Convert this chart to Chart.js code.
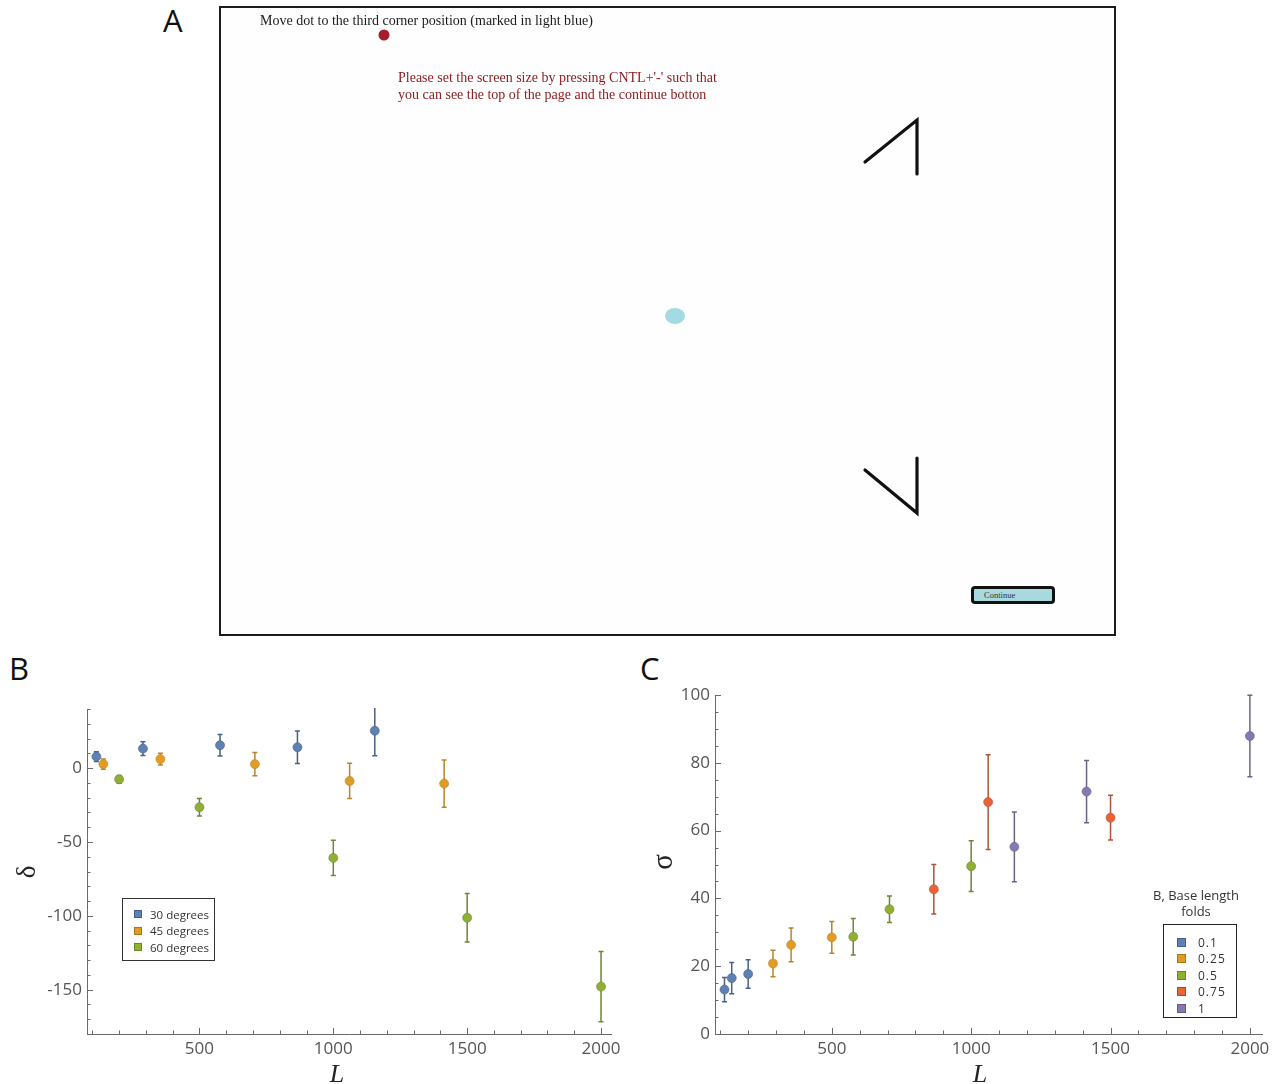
<!DOCTYPE html>
<html>
<head>
<meta charset="utf-8">
<title>Corner task, delta and sigma vs L</title>
<script src="https://cdn.jsdelivr.net/npm/chart.js@4.4.1/dist/chart.umd.min.js"></script>
<style>
  body { margin: 0; background: #fff; width: 1283px; height: 1084px; position: relative; overflow: hidden; font-family: 'Open Sans', sans-serif; }
  .abs { position: absolute; }
  .panel-label { position: absolute; font-size: 31px; line-height: 34px; color: #111; }
  #frameA { position: absolute; left: 219px; top: 6px; width: 893px; height: 626px; border: 2px solid #1c1c1c; background: #fefefe; }
  .serif { font-family: 'Liberation Serif', 'DejaVu Serif', serif; }
  .axis-title { position: absolute; text-align: center; font-family: 'Liberation Serif', serif; color: #222; }
  .legend-row { display: flex; align-items: center; height: 16.5px; }
  .swatch { width: 8px; height: 8px; margin-right: 8px; box-shadow: inset 0 0 0 1px rgba(0,0,0,0.25); }
  #legendC .swatch { width: 9px; height: 9px; margin-right: 12px; }
</style>
</head>
<body>

<!-- panel labels -->
<div class="panel-label" style="left:163px; top:3px;">A</div>
<div class="panel-label" style="left:9px; top:651px;">B</div>
<div class="panel-label" style="left:640px; top:651px;">C</div>

<!-- panel A: screenshot of the task -->
<div id="frameA">
  <canvas id="taskCanvas" width="893" height="626" class="abs" style="left:0; top:0;"></canvas>
  <div class="abs serif" style="left:39px; top:5px; font-size:14px; line-height:16px; color:#1a1a1a; white-space:nowrap;">Move dot to the third corner position (marked in light blue)</div>
  <div class="abs serif" style="left:177px; top:61px; font-size:14px; line-height:17px; color:#8e1f22; white-space:nowrap;">Please set the screen size by pressing CNTL+'-' such that<br>you can see the top of the page and the continue botton</div>
  <div class="abs serif" style="left:750px; top:578px; width:68px; height:12px; border:3px solid #111; border-radius:4px; background:#a7d9df; font-size:8.5px; line-height:12px; color:#333; padding-left:10px; box-sizing:content-box;">Continue</div>
</div>

<!-- panel B -->
<canvas id="chartB" width="640" height="434" class="abs" style="left:0; top:650px;"></canvas>
<div class="axis-title" style="left:6px; top:857px; width:40px; height:30px; font-size:27px; line-height:30px; transform:rotate(-90deg);">δ</div>
<div class="axis-title" style="left:317px; top:1059px; width:40px; font-size:26px; line-height:30px; font-style:italic;">L</div>
<div id="legendB" class="abs" style="left:122px; top:898px; width:93px; height:63px; border:1px solid #333; padding-top:7px; box-sizing:border-box; padding-left:11px; font-size:11.5px; color:#333;"></div>

<!-- panel C -->
<canvas id="chartC" width="643" height="434" class="abs" style="left:640px; top:650px;"></canvas>
<div class="axis-title" style="left:642px; top:847px; width:40px; height:30px; font-size:29px; line-height:30px; transform:rotate(-90deg);">σ</div>
<div class="axis-title" style="left:960px; top:1059px; width:40px; font-size:26px; line-height:30px; font-style:italic;">L</div>
<div class="abs" style="left:1136px; top:887px; width:120px; text-align:center; font-size:13px; line-height:16px; color:#333;">B, Base length<br>folds</div>
<div id="legendC" class="abs" style="left:1163px; top:924px; width:74px; height:94px; border:1.5px solid #222; padding-top:9px; box-sizing:border-box; padding-left:13px; font-size:12px; letter-spacing:1px; color:#333;"></div>

<script>
// === Panel A: task screen (frame pixel coordinates) ===
const movingDot = [{ x: 163, y: 27 }];
const targetDot = [{ x: 454, y: 308 }];
const upperCorner = [{ x: 644, y: 154 }, { x: 696, y: 112 }, { x: 696, y: 166 }];
const lowerCorner = [{ x: 644, y: 462 }, { x: 696, y: 505 }, { x: 696, y: 450 }];

// === Panel B: delta vs L, by angle ===
const anglesB = ['30 degrees', '45 degrees', '60 degrees'];
const L30 = [115, 289, 577, 866, 1155];
const L45 = [141, 354, 707, 1061, 1414];
const L60 = [200, 500, 1000, 1500, 2000];
const delta30 = [7.8, 13.2, 15.5, 14.1, 25.3];
const delta30Err = [3.3, 4.6, 7.3, 11, 17];
const delta45 = [2.7, 6.1, 2.7, -8.7, -10.5];
const delta45Err = [3.5, 4, 7.8, 11.9, 16];
const delta60 = [-7.6, -26.5, -60.8, -101.3, -147.9];
const delta60Err = [2.6, 6, 11.9, 16.4, 23.8];
const xTicksB = [500, 1000, 1500, 2000];
const yTicksB = [0, -50, -100, -150];

// === Panel C: sigma vs L, by base length fold ===
const foldsC = ['0.1', '0.25', '0.5', '0.75', '1'];
const L_f01 = [115, 141, 200];
const L_f025 = [289, 354, 500];
const L_f05 = [577, 707, 1000];
const L_f075 = [866, 1061, 1500];
const L_f1 = [1155, 1414, 2000];
const sigma_f01 = [13.1, 16.5, 17.7];
const sigma_f025 = [20.8, 26.3, 28.5];
const sigma_f05 = [28.7, 36.8, 49.5];
const sigma_f075 = [42.7, 68.4, 63.8];
const sigma_f1 = [55.2, 71.5, 87.9];
const err_f01 = [3.6, 4.6, 4.2];
const err_f025 = [3.9, 5, 4.7];
const err_f05 = [5.4, 3.9, 7.5];
const err_f075 = [7.3, 14, 6.6];
const err_f1 = [10.3, 9.2, 12];
const xTicksC = [500, 1000, 1500, 2000];
const yTicksC = [0, 20, 40, 60, 80, 100];

// mathematica-ish palette
const blue = '#5e81b5', orange = '#e19c24', green = '#8fb032', red = '#eb6235', purple = '#8778b3';
const barBlue = '#4a5f82', barOrange = '#b8842c', barGreen = '#6e8537', barRed = '#b1513a', barPurple = '#6c6485';

const toPts = (xs, ys) => xs.map((x, i) => ({ x, y: ys[i] }));

// === Error bars drawn through the y scale ===
const errorBars = {
  id: 'errorBars',
  beforeDatasetsDraw(chart) {
    const { ctx, chartArea: a, scales: { y } } = chart;
    ctx.save();
    ctx.beginPath();
    ctx.rect(a.left, a.top - 1, a.right - a.left, a.bottom - a.top + 2);
    ctx.clip();
    chart.data.datasets.forEach((ds, i) => {
      if (!ds.errors) return;
      const meta = chart.getDatasetMeta(i);
      ctx.strokeStyle = ds.barColor;
      ctx.lineWidth = 1.5;
      meta.data.forEach((pt, j) => {
        const v = ds.data[j].y, e = ds.errors[j];
        const top = y.getPixelForValue(v + e), bot = y.getPixelForValue(v - e);
        ctx.beginPath();
        ctx.moveTo(pt.x, top); ctx.lineTo(pt.x, bot);
        ctx.moveTo(pt.x - 2.5, top); ctx.lineTo(pt.x + 2.5, top);
        ctx.moveTo(pt.x - 2.5, bot); ctx.lineTo(pt.x + 2.5, bot);
        ctx.stroke();
      });
    });
    ctx.restore();
  }
};

// === Left/bottom frame with inward major + minor ticks ===
const frameTicks = {
  id: 'frameTicks',
  afterDraw(chart, args, opts) {
    const { ctx, chartArea: a, scales: { x, y } } = chart;
    ctx.save();
    ctx.strokeStyle = '#6a6a6a';
    ctx.lineWidth = 1;
    ctx.beginPath();
    ctx.moveTo(a.left + 0.5, a.top);
    ctx.lineTo(a.left + 0.5, a.bottom + 0.5);
    ctx.lineTo(a.right, a.bottom + 0.5);
    for (let v = Math.ceil(x.min / opts.xMinor) * opts.xMinor; v <= x.max; v += opts.xMinor) {
      const px = Math.round(x.getPixelForValue(v)) + 0.5;
      const len = v % opts.xMajor === 0 ? 6 : 3.5;
      ctx.moveTo(px, a.bottom); ctx.lineTo(px, a.bottom - len);
    }
    for (let v = Math.ceil(y.min / opts.yMinor) * opts.yMinor; v <= y.max; v += opts.yMinor) {
      const py = Math.round(y.getPixelForValue(v)) + 0.5;
      const len = v % opts.yMajor === 0 ? 6 : 3.5;
      ctx.moveTo(a.left, py); ctx.lineTo(a.left + len, py);
    }
    ctx.stroke();
    ctx.restore();
  }
};

const tickFont = { family: 'Open Sans', size: 17 };

function axisX(min, max, ticks) {
  return {
    type: 'linear', min, max,
    grid: { display: false, drawTicks: false }, border: { display: false },
    ticks: { color: '#555', font: tickFont, padding: 5, maxRotation: 0, callback: v => String(v) },
    afterBuildTicks: s => { s.ticks = ticks.map(v => ({ value: v })); },
    afterFit: s => { s.height = 50; }
  };
}
function axisY(min, max, ticks) {
  return {
    type: 'linear', min, max,
    grid: { display: false, drawTicks: false }, border: { display: false },
    ticks: { color: '#555', font: tickFont, padding: 5, callback: v => String(v) },
    afterBuildTicks: s => { s.ticks = ticks.map(v => ({ value: v })); },
    afterFit: s => { s.width = 60; }
  };
}

function series(label, pts, errors, color, barColor) {
  return {
    label, data: pts, errors, barColor,
    pointRadius: 4.5, pointHoverRadius: 4.5,
    pointBackgroundColor: color, pointBorderColor: barColor, pointBorderWidth: 0.6,
    showLine: false
  };
}

function legendHtml(el, names, colors) {
  el.innerHTML = names.map((n, i) =>
    `<div class="legend-row"><span class="swatch" style="background:${colors[i]}"></span>${n}</div>`).join('');
}

// === Panel A chart ===
const ellipse = document.createElement('canvas');
ellipse.width = 22; ellipse.height = 18;
(function drawEllipse() {
  const c = ellipse.getContext('2d');
  c.fillStyle = '#a4dbe2';
  c.beginPath();
  c.ellipse(11, 9, 10, 8, 0, 0, Math.PI * 2);
  c.fill();
})();

new Chart(document.getElementById('taskCanvas'), {
  type: 'scatter',
  data: {
    datasets: [
      { data: upperCorner, showLine: true, borderColor: '#111', borderWidth: 3.2, pointRadius: 0, borderCapStyle: 'round', borderJoinStyle: 'miter' },
      { data: lowerCorner, showLine: true, borderColor: '#111', borderWidth: 3.2, pointRadius: 0, borderCapStyle: 'round', borderJoinStyle: 'miter' },
      { data: movingDot, pointRadius: 5.5, pointBackgroundColor: '#a51d2d', pointBorderWidth: 0 },
      { data: targetDot, pointStyle: ellipse, pointRadius: 10 }
    ]
  },
  options: {
    responsive: false, animation: false, clip: false,
    layout: { padding: 0, autoPadding: false },
    plugins: { legend: { display: false }, tooltip: { enabled: false } },
    scales: {
      x: { type: 'linear', display: false, min: 0, max: 893 },
      y: { type: 'linear', display: false, min: 0, max: 626, reverse: true }
    }
  }
});

// === Panel B chart ===
new Chart(document.getElementById('chartB'), {
  type: 'scatter',
  data: {
    datasets: [
      series(anglesB[0], toPts(L30, delta30), delta30Err, blue, barBlue),
      series(anglesB[1], toPts(L45, delta45), delta45Err, orange, barOrange),
      series(anglesB[2], toPts(L60, delta60), delta60Err, green, barGreen)
    ]
  },
  options: {
    responsive: false, animation: false,
    layout: { padding: { left: 27, right: 28, top: 59, bottom: 0 }, autoPadding: false },
    plugins: {
      legend: { display: false }, tooltip: { enabled: false },
      frameTicks: { xMinor: 100, xMajor: 500, yMinor: 10, yMajor: 50 }
    },
    scales: { x: axisX(80, 2041, xTicksB), y: axisY(-180, 40, yTicksB) }
  },
  plugins: [errorBars, frameTicks]
});
legendHtml(document.getElementById('legendB'), anglesB, [blue, orange, green]);

// === Panel C chart ===
new Chart(document.getElementById('chartC'), {
  type: 'scatter',
  data: {
    datasets: [
      series(foldsC[0], toPts(L_f01, sigma_f01), err_f01, blue, barBlue),
      series(foldsC[1], toPts(L_f025, sigma_f025), err_f025, orange, barOrange),
      series(foldsC[2], toPts(L_f05, sigma_f05), err_f05, green, barGreen),
      series(foldsC[3], toPts(L_f075, sigma_f075), err_f075, red, barRed),
      series(foldsC[4], toPts(L_f1, sigma_f1), err_f1, purple, barPurple)
    ]
  },
  options: {
    responsive: false, animation: false,
    layout: { padding: { left: 15, right: 20, top: 45, bottom: 0 }, autoPadding: false },
    plugins: {
      legend: { display: false }, tooltip: { enabled: false },
      frameTicks: { xMinor: 100, xMajor: 500, yMinor: 5, yMajor: 20 }
    },
    scales: { x: axisX(81, 2047, xTicksC), y: axisY(0, 100, yTicksC) }
  },
  plugins: [errorBars, frameTicks]
});
legendHtml(document.getElementById('legendC'), foldsC, [blue, orange, green, red, purple]);
</script>
</body>
</html>
